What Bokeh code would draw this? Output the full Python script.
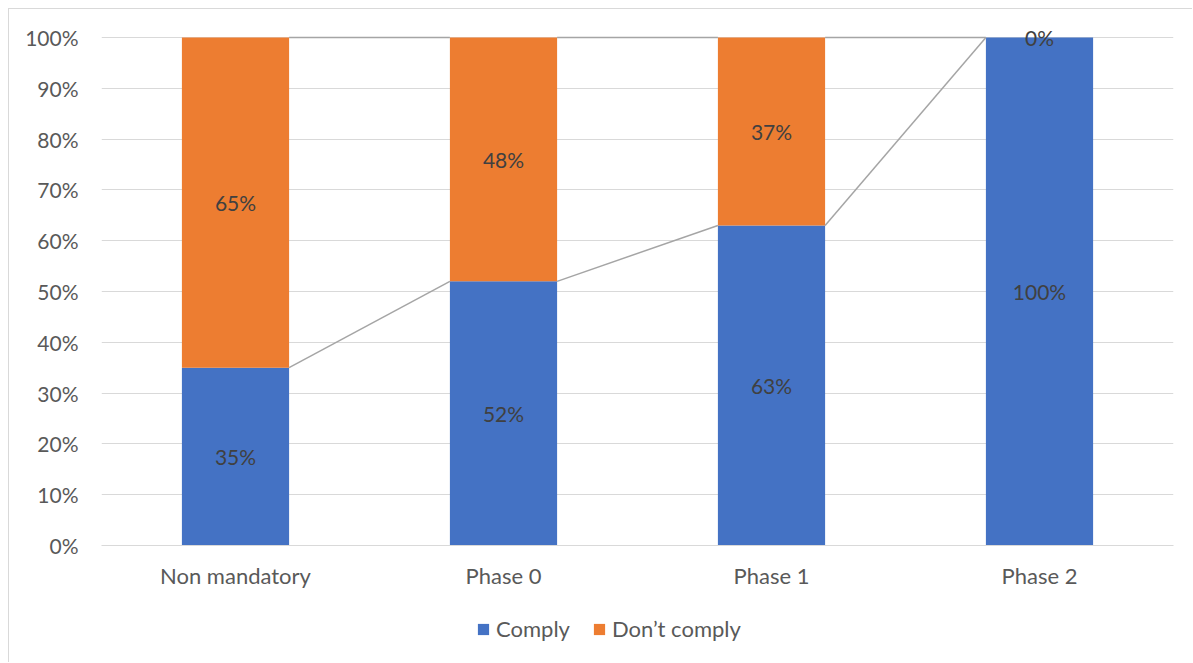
from bokeh.plotting import figure
from bokeh.layouts import column
from bokeh.models import (Range1d, FixedTicker, NumeralTickFormatter, Legend, LegendItem,
                          ColumnDataSource)
from bokeh.core.properties import value
from bokeh.embed import file_html
from bokeh.resources import INLINE

# Compliance shares per stage (percent)
categories = ["Non mandatory", "Phase 0", "Phase 1", "Phase 2"]
comply = [35, 52, 63, 100]
dont_comply = [65, 48, 37, 0]
y_ticks = [0, 10, 20, 30, 40, 50, 60, 70, 80, 90, 100]
series_names = ["Comply", "Don\u2019t comply"]

BLUE = "#4472C4"
ORANGE = "#ED7D31"
FONT = "Lato"
BAR_W = 0.4
BORDER = "1px solid #D9D9D9"

n = len(categories)
xc = [i + 0.5 for i in range(n)]
c = [v / 100 for v in comply]
d = [v / 100 for v in dont_comply]
top = [a + b for a, b in zip(c, d)]

# frame: 1072 x 508 px for the 0..100% band, with a little headroom above
# so labels sitting on the 100% line are not cut
FRAME_H = 532
Y_END = FRAME_H / 508

p = figure(width=1184, height=600, output_backend="svg", toolbar_location=None,
           x_range=Range1d(0, n), y_range=Range1d(0, Y_END),
           min_border_left=92, min_border_right=20, min_border_top=4, min_border_bottom=64)
p.styles = {"border-top": BORDER, "border-left": BORDER}
p.outline_line_color = None
p.background_fill_color = "white"
p.border_fill_color = "white"

# axes
p.yaxis.ticker = FixedTicker(ticks=[t / 100 for t in y_ticks])
p.yaxis.formatter = NumeralTickFormatter(format="0%")
p.yaxis.axis_line_color = None
p.yaxis.major_tick_line_color = None
p.yaxis.minor_tick_line_color = None
p.yaxis.major_label_standoff = 17
p.yaxis.major_label_text_font_size = "21px"
p.xaxis.ticker = FixedTicker(ticks=xc)
p.xaxis.major_label_overrides = {x: lab for x, lab in zip(xc, categories)}
p.xaxis.axis_line_color = "#D9D9D9"
p.xaxis.major_tick_line_color = None
p.xaxis.minor_tick_line_color = None
p.xaxis.major_label_standoff = 10
p.xaxis.major_label_text_font_size = "22px"
for ax in (p.xaxis, p.yaxis):
    ax.major_label_text_font = FONT
    ax.major_label_text_color = "#595959"
p.xgrid.grid_line_color = None
p.ygrid.grid_line_color = "#D9D9D9"
p.ygrid.grid_line_width = 1

# stacked bars
src = ColumnDataSource(dict(x=xc, c=c, top=top))
p.vbar(x="x", width=BAR_W, bottom=0, top="c", source=src, fill_color=BLUE, line_color=None)
p.vbar(x="x", width=BAR_W, bottom="c", top="top", source=src, fill_color=ORANGE, line_color=None)

# series lines joining neighbouring bar tops
for series in (c, top):
    p.segment(x0=[xc[i] + BAR_W / 2 for i in range(n - 1)],
              x1=[xc[i + 1] - BAR_W / 2 for i in range(n - 1)],
              y0=series[:-1], y1=series[1:], line_color="#A5A5A5", line_width=1.5)

# data labels
lab_x = xc + xc
lab_y = [v / 2 for v in c] + [a + b / 2 for a, b in zip(c, d)]
lab_t = [f"{v}%" for v in comply] + [f"{v}%" for v in dont_comply]
p.text(x=lab_x, y=lab_y, text=lab_t, text_align="center", text_baseline="middle",
       text_font=value(FONT), text_font_size="21px", text_color="#404040")

# legend strip under the chart; its key renderers reuse the bar data but the
# strip's ranges lie far away from it, so only the legend itself shows
leg = figure(width=1184, height=54, output_backend="svg", toolbar_location=None,
             x_axis_type=None, y_axis_type=None,
             x_range=Range1d(100, 101), y_range=Range1d(100, 101),
             min_border_left=92, min_border_right=20,
             min_border_top=0, min_border_bottom=0)
leg.styles = {"border-left": BORDER}
leg.grid.visible = False
leg.outline_line_color = None
leg.background_fill_color = "white"
leg.border_fill_color = "white"
key_c = leg.vbar(x="x", width=BAR_W, bottom=0, top="c", source=src,
                 fill_color=BLUE, line_color=None)
key_d = leg.vbar(x="x", width=BAR_W, bottom="c", top="top", source=src,
                 fill_color=ORANGE, line_color=None)
legend = Legend(items=[LegendItem(label=series_names[0], renderers=[key_c]),
                       LegendItem(label=series_names[1], renderers=[key_d])],
                orientation="horizontal", location=(375, 20),
                glyph_width=14, glyph_height=14, label_standoff=6, spacing=22,
                label_text_font=FONT, label_text_font_size="22px", label_text_color="#595959",
                border_line_color=None, background_fill_alpha=0, margin=0, padding=0)
leg.add_layout(legend, "center")

layout = column(p, leg, spacing=0)
layout.margin = (8, 0, 0, 8)

open("out.html", "w").write(file_html(layout, INLINE))
